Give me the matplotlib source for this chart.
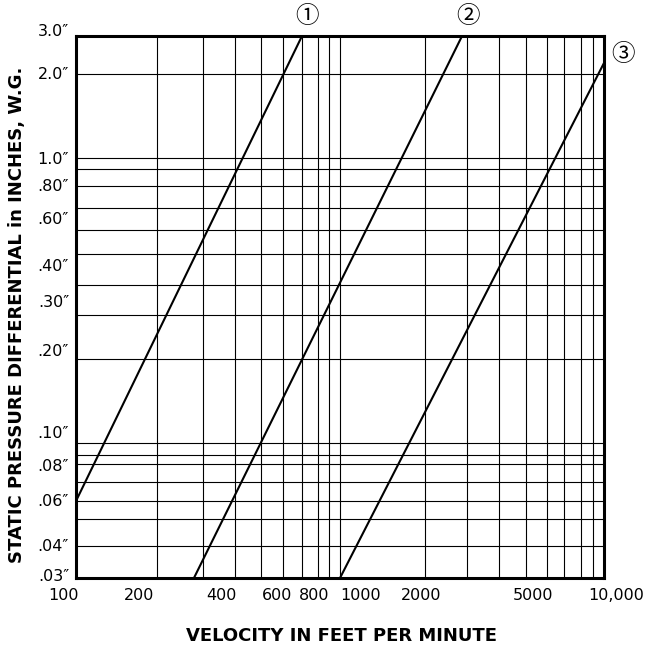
import numpy as np
import matplotlib
matplotlib.use("Agg")
import matplotlib.pyplot as plt
from matplotlib.transforms import ScaledTranslation

# three curves: velocity (fpm) vs static pressure differential (in. w.g.)
curve_names = ['\u2460', '\u2461', '\u2462']
curve_fpm = [[100, 700], [277, 2860], [1000, 10000]]
curve_inwg = [[0.06, 3.0], [0.03, 3.0], [0.03, 2.25]]

x_grid = [100, 200, 300, 400, 500, 600, 700, 800, 900,
          1000, 2000, 3000, 4000, 5000, 6000, 7000, 8000, 9000, 10000]
y_grid = [0.03, 0.04, 0.05, 0.06, 0.07, 0.08, 0.09,
          0.1, 0.2, 0.3, 0.4, 0.5, 0.6, 0.7, 0.8, 0.9, 1.0, 2.0, 3.0]

x_ticks = [100, 200, 400, 600, 800, 1000, 2000, 5000, 10000]
x_ticklabels = ['100', '200', '400', '600', '800', '1000', '2000', '5000', '10,000']
y_ticks = [0.03, 0.04, 0.06, 0.08, 0.1, 0.2, 0.3, 0.4, 0.6, 0.8, 1.0, 2.0, 3.0]
y_ticklabels = ['.03\u2033', '.04\u2033', '.06\u2033', '.08\u2033', '.10\u2033', '.20\u2033',
                '.30\u2033', '.40\u2033', '.60\u2033', '.80\u2033', '1.0\u2033', '2.0\u2033',
                '3.0\u2033']

# the printed grid is only roughly logarithmic, so calibrate the scales
# on where its grid lines actually sit (pixels of the original)
x_grid_px = [76, 157, 203, 235, 261, 283, 302, 318, 329,
             340, 425, 467, 499, 526, 547, 564, 581, 593, 604]
y_grid_px = [578, 546, 519, 501, 482, 464, 455,
             443, 359, 315, 285, 254, 230, 208, 186, 169, 158, 74, 36]

# hand placed labels in the original (pixel nudges)
x_nudge = [-12, -18, -14, -6, -4, 21, -4, 7, 12]
y_nudge = [3, 1, 1, -1, 11, 9, 14, 20, 12, 1, 0, 1, 6]


def lin(x, xp, fp):
    x = np.asarray(x, float)
    out = np.interp(x, xp, fp)
    out = np.where(x < xp[0], fp[0] + (x - xp[0]) * (fp[1] - fp[0]) / (xp[1] - xp[0]), out)
    out = np.where(x > xp[-1], fp[-1] + (x - xp[-1]) * (fp[-1] - fp[-2]) / (xp[-1] - xp[-2]), out)
    return out


def grid_scale(vals, px):
    lv = np.log10(vals)
    px = np.array(px, float)
    f = (px - px[0]) / (px[-1] - px[0])
    fwd = lambda v: lin(np.log10(np.clip(np.asarray(v, float), 1e-6, None)), lv, f)
    inv = lambda t: 10 ** lin(t, f, lv)
    return fwd, inv


fig = plt.figure(figsize=(6.48, 6.49), dpi=100)
ax = fig.add_axes([76 / 648, (649 - 578) / 649, (604 - 76) / 648, (578 - 36) / 649])

ax.set_xscale('function', functions=grid_scale(x_grid, x_grid_px))
ax.set_yscale('function', functions=grid_scale(y_grid, y_grid_px))
ax.set_xlim(100, 10000)
ax.set_ylim(0.03, 3.0)

for fpm, inwg, name, off in zip(curve_fpm, curve_inwg, curve_names,
                                [(4, 16), (4, 16), (14, 8)]):
    ax.plot(fpm, inwg, color='black', lw=1.5, solid_capstyle='butt')
    ax.annotate(name, xy=(fpm[-1], inwg[-1]), xytext=off, textcoords='offset points',
                ha='center', va='center_baseline', fontsize=17,
                family=['Noto Sans CJK JP', 'DejaVu Sans'], annotation_clip=False)

ax.set_xticks(x_ticks, x_ticklabels)
ax.set_xticks(x_grid, minor=True)
ax.set_yticks(y_ticks, y_ticklabels)
ax.set_yticks(y_grid, minor=True)
ax.tick_params(which='both', length=0)
ax.tick_params(axis='x', pad=7, labelsize=11.5)
ax.tick_params(axis='y', pad=5, labelsize=11.5)
ax.grid(True, which='both', color='black', lw=0.8)
ax.set_axisbelow(True)

for s in ax.spines.values():
    s.set_linewidth(2.2)
    s.set_zorder(5)

for lab, dx in zip(ax.get_xticklabels(), x_nudge):
    lab.set_transform(lab.get_transform() + ScaledTranslation(dx / 100, 0, fig.dpi_scale_trans))
for lab, dy in zip(ax.get_yticklabels(), y_nudge):
    lab.set_transform(lab.get_transform() + ScaledTranslation(0, dy / 100, fig.dpi_scale_trans))

fig.text(341 / 648, 1 - 636 / 649, 'VELOCITY IN FEET PER MINUTE', ha='center', va='center',
         fontsize=13, fontweight='heavy')
fig.text(17 / 648, 1 - 315 / 649, 'STATIC PRESSURE DIFFERENTIAL in INCHES, W.G.',
         ha='center', va='center', rotation=90, fontsize=13, fontweight='heavy')

fig.savefig('out.png', dpi=100)
